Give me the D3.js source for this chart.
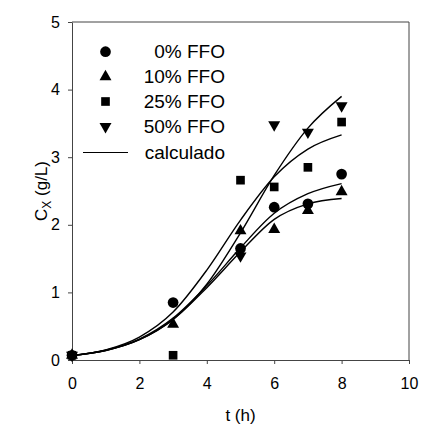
<!DOCTYPE html>
<html>
<head>
<meta charset="utf-8">
<script src="https://cdn.jsdelivr.net/npm/d3@7"></script>
<style>
  body { margin: 0; background: #fff; }
  text { font-family: "Liberation Sans", Arial, sans-serif; fill: #000; }
</style>
</head>
<body>
<script>
// measured points (t in h, Cx in g/L)
var tData = [0, 3, 5, 6, 7, 8];
var ffo0  = [0.07, 0.85, 1.65, 2.26, 2.31, 2.75];
var ffo10 = [0.07, 0.53, 1.91, 1.93, 2.21, 2.49];
var ffo25 = [0.07, 0.07, 2.66, 2.56, 2.85, 3.52];
var ffo50 = [0.07, null, 1.54, 3.48, 3.37, 3.76];

// model curves ("calculado"), read at whole hours
var tCalc = [0, 1, 2, 3, 4, 5, 6, 7, 8];
var calc0  = [0.065, 0.145, 0.31, 0.62, 1.10, 1.66, 2.17, 2.46, 2.61];
var calc10 = [0.065, 0.14, 0.30, 0.60, 1.07, 1.60, 2.08, 2.31, 2.39];
var calc25 = [0.065, 0.15, 0.34, 0.71, 1.33, 2.07, 2.71, 3.12, 3.33];
var calc50 = [0.065, 0.14, 0.30, 0.60, 1.12, 1.88, 2.73, 3.43, 3.90];

var xTicks = [0, 2, 4, 6, 8, 10];
var yTicks = [0, 1, 2, 3, 4, 5];
var legendLabels = ["0% FFO", "10% FFO", "25% FFO", "50% FFO", "calculado"];

var w = 421, h = 428;
var pad = { top: 22, right: 12, bottom: 68, left: 72 };

var svg = d3.select("body").append("svg")
  .attr("width", w)
  .attr("height", h);

var xScale = d3.scaleLinear().domain([0, 10]).range([pad.left, w - pad.right]);
var yScale = d3.scaleLinear().domain([0, 5]).range([h - pad.bottom, pad.top]);

var axisColor = "#444";

// frame (top and right sides, no ticks)
svg.append("path")
  .attr("d", "M" + xScale(0) + "," + yScale(5) + "H" + xScale(10) + "V" + yScale(0))
  .attr("fill", "none")
  .attr("stroke", axisColor)
  .attr("stroke-width", 1);

var xAxis = svg.append("g")
  .attr("transform", "translate(0," + yScale(0) + ")")
  .call(d3.axisBottom(xScale).tickValues(xTicks).tickFormat(d3.format("d"))
    .tickSize(4).tickPadding(14).tickSizeOuter(0));

var yAxis = svg.append("g")
  .attr("transform", "translate(" + xScale(0) + ",0)")
  .call(d3.axisLeft(yScale).tickValues(yTicks).tickFormat(d3.format("d"))
    .tickSize(4).tickPadding(8).tickSizeOuter(0));

[xAxis, yAxis].forEach(function(a) {
  a.selectAll("path, line").attr("stroke", axisColor);
  a.selectAll("text")
    .attr("font-family", "Liberation Sans, Arial, sans-serif")
    .attr("font-size", 16)
    .attr("fill", "#000");
});

// axis titles
svg.append("text")
  .attr("x", (xScale(0) + xScale(10)) / 2)
  .attr("y", 421)
  .attr("text-anchor", "middle")
  .attr("font-size", 17)
  .text("t (h)");

var yTitle = svg.append("text")
  .attr("transform", "translate(47," + (yScale(0) + yScale(5)) / 2 + ") rotate(-90)")
  .attr("text-anchor", "middle")
  .attr("font-size", 17);
yTitle.append("tspan").text("C");
yTitle.append("tspan").attr("font-size", 12).attr("dy", 4).text("X");
yTitle.append("tspan").attr("dy", -4).text(" (g/L)");

// model curves
var line = d3.line()
  .x(function(d) { return xScale(d[0]); })
  .y(function(d) { return yScale(d[1]); })
  .curve(d3.curveMonotoneX);

[calc0, calc10, calc25, calc50].forEach(function(s) {
  svg.append("path")
    .datum(tCalc.map(function(t, i) { return [t, s[i]]; }))
    .attr("d", line)
    .attr("fill", "none")
    .attr("stroke", "#000")
    .attr("stroke-width", 1.4);
});

// markers
var symCircle = d3.symbol().type(d3.symbolCircle).size(90);
var symTri = d3.symbol().type(d3.symbolTriangle).size(62);
var symSquare = d3.symbol().type(d3.symbolSquare).size(75);

var series = [
  { values: ffo0,  path: symCircle(),  rot: 0 },
  { values: ffo10, path: symTri(),     rot: 0 },
  { values: ffo25, path: symSquare(),  rot: 0 },
  { values: ffo50, path: symTri(),     rot: 180 }
];

series.forEach(function(s) {
  var pts = tData.map(function(t, i) { return [t, s.values[i]]; })
    .filter(function(d) { return d[1] != null; });
  svg.append("g").selectAll("path")
    .data(pts)
    .enter()
    .append("path")
    .attr("d", s.path)
    .attr("fill", "#000")
    .attr("transform", function(d) {
      return "translate(" + xScale(d[0]) + "," + yScale(d[1]) + ") rotate(" + s.rot + ")";
    });
});

// legend
var legend = svg.append("g");
var rowY = [51.7, 76.7, 101.5, 126.5, 152.5];
legendLabels.forEach(function(lab, i) {
  if (i < 4) {
    legend.append("path")
      .attr("d", series[i].path)
      .attr("fill", "#000")
      .attr("transform", "translate(105.5," + rowY[i] + ") rotate(" + series[i].rot + ")");
  } else {
    legend.append("line")
      .attr("x1", 83).attr("x2", 128)
      .attr("y1", rowY[i]).attr("y2", rowY[i])
      .attr("stroke", "#000")
      .attr("stroke-width", 1.2);
  }
  legend.append("text")
    .attr("x", 225)
    .attr("y", rowY[i] + 6.5)
    .attr("text-anchor", "end")
    .attr("font-size", 19)
    .text(lab);
});
</script>
</body>
</html>
